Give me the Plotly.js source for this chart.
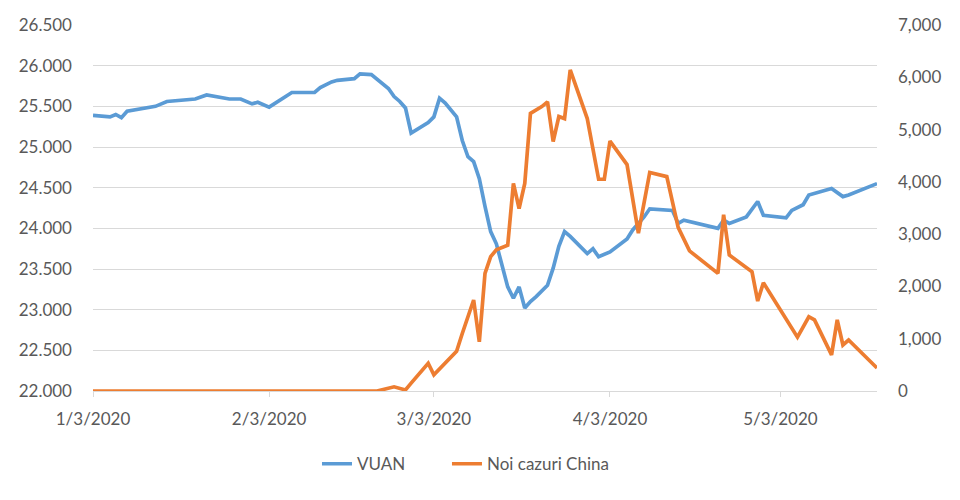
<!DOCTYPE html>
<html>
<head>
<meta charset="utf-8">
<script src="https://cdn.plot.ly/plotly-3.0.1.min.js"></script>
<style>html,body{margin:0;padding:0;background:#fff;}#chart{width:960px;height:500px;}</style>
</head>
<body>
<div id="chart"></div>
<script>
// VUAN series (left axis)
const vuanDates = ['2020-01-03','2020-01-06','2020-01-07','2020-01-08','2020-01-09','2020-01-11','2020-01-14','2020-01-16','2020-01-21','2020-01-23','2020-01-27','2020-01-29','2020-01-31','2020-02-01','2020-02-03','2020-02-07','2020-02-11','2020-02-12','2020-02-14','2020-02-15','2020-02-18','2020-02-19','2020-02-21','2020-02-24','2020-02-25','2020-02-26','2020-02-27','2020-02-28','2020-03-02','2020-03-03','2020-03-04','2020-03-05','2020-03-07','2020-03-08','2020-03-09','2020-03-10','2020-03-11','2020-03-12','2020-03-13','2020-03-14','2020-03-15','2020-03-16','2020-03-17','2020-03-18','2020-03-19','2020-03-20','2020-03-21','2020-03-23','2020-03-24','2020-03-25','2020-03-26','2020-03-27','2020-03-30','2020-03-31','2020-04-01','2020-04-03','2020-04-06','2020-04-07','2020-04-08','2020-04-09','2020-04-10','2020-04-14','2020-04-15','2020-04-16','2020-04-22','2020-04-23','2020-04-24','2020-04-27','2020-04-29','2020-04-30','2020-05-04','2020-05-05','2020-05-07','2020-05-08','2020-05-12','2020-05-14','2020-05-15','2020-05-19','2020-05-20'];
const vuanValues = [25.39,25.37,25.40,25.36,25.44,25.46,25.50,25.56,25.59,25.64,25.59,25.59,25.53,25.55,25.49,25.67,25.67,25.73,25.80,25.82,25.84,25.90,25.89,25.72,25.62,25.56,25.48,25.17,25.30,25.37,25.60,25.54,25.37,25.08,24.88,24.82,24.61,24.27,23.96,23.81,23.53,23.28,23.14,23.28,23.02,23.10,23.16,23.30,23.51,23.78,23.96,23.90,23.69,23.75,23.65,23.71,23.87,23.98,24.06,24.14,24.24,24.22,24.06,24.10,24.00,24.10,24.06,24.14,24.33,24.16,24.13,24.22,24.29,24.41,24.49,24.39,24.41,24.53,24.55];

// New cases in China (right axis)
const casesDates = ['2020-01-03','2020-02-22','2020-02-25','2020-02-27','2020-02-28','2020-02-29','2020-03-02','2020-03-03','2020-03-05','2020-03-07','2020-03-08','2020-03-10','2020-03-11','2020-03-12','2020-03-13','2020-03-14','2020-03-16','2020-03-17','2020-03-18','2020-03-19','2020-03-20','2020-03-22','2020-03-23','2020-03-24','2020-03-25','2020-03-26','2020-03-27','2020-03-30','2020-04-01','2020-04-02','2020-04-03','2020-04-06','2020-04-08','2020-04-10','2020-04-13','2020-04-15','2020-04-17','2020-04-22','2020-04-23','2020-04-24','2020-04-28','2020-04-29','2020-04-30','2020-05-06','2020-05-08','2020-05-09','2020-05-12','2020-05-13','2020-05-14','2020-05-15','2020-05-20'];
const casesValues = [0,0,80,20,150,270,530,310,530,760,1100,1740,940,2250,2570,2700,2790,3970,3490,3970,5310,5440,5530,4770,5250,5210,6140,5210,4050,4050,4780,4330,3020,4180,4100,3130,2680,2250,3370,2600,2280,1720,2070,1030,1420,1360,690,1360,880,975,440];

const xTickVals = ['2020-01-03','2020-02-03','2020-03-03','2020-04-03','2020-05-03'];
const xTickText = ['1/3/2020','2/3/2020','3/3/2020','4/3/2020','5/3/2020'];
const seriesNames = ['VUAN','Noi cazuri China'];

const font = {family: 'Lato, "Open Sans", sans-serif', size: 17, color: '#595959'};

const traces = [
  {x: vuanDates, y: vuanValues, name: seriesNames[0], type: 'scatter', mode: 'lines',
   line: {color: '#5B9BD5', width: 3.7}, yaxis: 'y', legend: 'legend'},
  {x: casesDates, y: casesValues, name: seriesNames[1], type: 'scatter', mode: 'lines',
   line: {color: '#ED7D31', width: 3.7}, yaxis: 'y2', legend: 'legend2'}
];

const layout = {
  width: 960, height: 500,
  margin: {l: 93, r: 83, t: 25, b: 109},
  paper_bgcolor: '#fff', plot_bgcolor: '#fff',
  font: font,
  showlegend: true,
  legend: {orientation: 'h', x: 0.2857, xanchor: 'left', y: -0.2, yanchor: 'middle',
           font: font, bgcolor: 'rgba(0,0,0,0)'},
  legend2: {orientation: 'h', x: 0.4515, xanchor: 'left', y: -0.2, yanchor: 'middle',
           font: font, bgcolor: 'rgba(0,0,0,0)'},
  xaxis: {type: 'date', range: ['2020-01-03','2020-05-20'],
          tickmode: 'array', tickvals: xTickVals, ticktext: xTickText,
          showgrid: false, zeroline: false, showline: true, linecolor: '#d9d9d9', linewidth: 1,
          ticks: 'outside', ticklen: 5, tickcolor: '#d9d9d9', ticklabelstandoff: 8,
          tickfont: font},
  yaxis: {range: [22, 26.5], dtick: 0.5, tick0: 22, tickformat: '.3f',
          showgrid: true, gridcolor: '#d9d9d9', gridwidth: 1, zeroline: false,
          showline: false, ticks: '', ticklabelstandoff: 20, tickfont: font},
  yaxis2: {range: [0, 7000], dtick: 1000, tick0: 0, tickformat: ',d', overlaying: 'y', side: 'right',
           showgrid: false, zeroline: false, showline: false, ticks: '', ticklabelstandoff: 20, tickfont: font},
  hovermode: false
};

Plotly.newPlot('chart', traces, layout, {staticPlot: true, displayModeBar: false});
</script>
</body>
</html>
